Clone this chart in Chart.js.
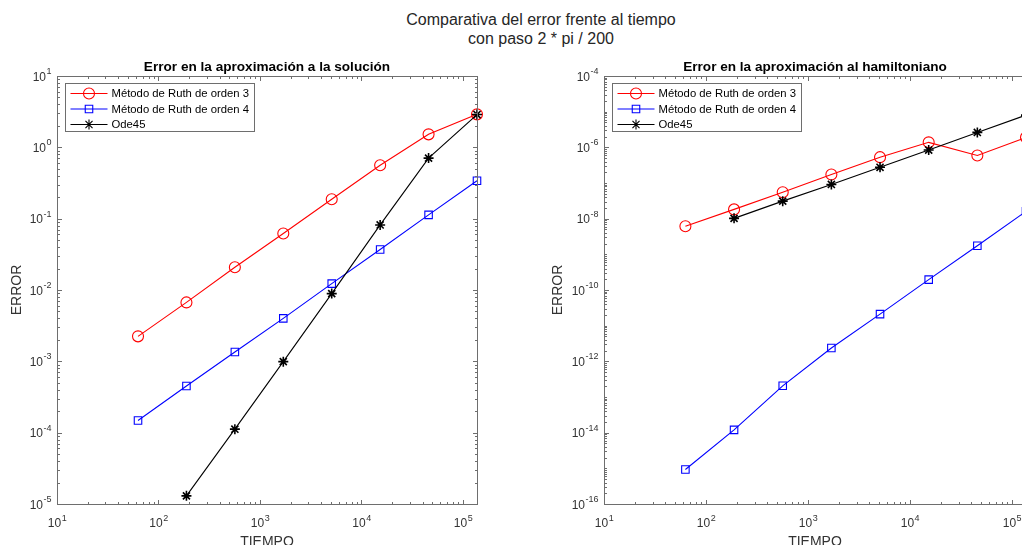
<!DOCTYPE html>
<html>
<head>
<meta charset="utf-8">
<script src="https://cdn.jsdelivr.net/npm/chart.js@4"></script>
<style>
html, body { margin: 0; padding: 0; background: #fff; overflow: hidden; width: 1022px; height: 545px; }
body { position: relative; font-family: "Liberation Sans", Arial, sans-serif; }
#suptitle { position: absolute; left: 0; top: 10px; width: 1082px; text-align: center; font-size: 16px; line-height: 19px; color: #262626; }
canvas { position: absolute; top: 0; }
#solChart { left: 0; }
#hamChart { left: 541px; }
</style>
</head>
<body>
<div id="suptitle">Comparativa del error frente al tiempo<br>con paso 2 * pi / 200</div>
<canvas id="solChart" width="541" height="545"></canvas>
<canvas id="hamChart" width="545" height="545"></canvas>
<script>
// tiempos (20*pi*3^k)
const tiempo = [62.83, 188.5, 565.5, 1696.5, 5089.4, 15268, 45804, 137412];
const etiquetas = ["Método de Ruth de orden 3", "Método de Ruth de orden 4", "Ode45"];

// error en la solucion
const solRuth3 = [2.24e-3, 6.7e-3, 0.0208, 0.062, 0.187, 0.56, 1.52, 2.9];
const solRuth4 = [1.48e-4, 4.5e-4, 1.35e-3, 4.0e-3, 0.0123, 0.037, 0.113, 0.34];
const solOde45 = [null, 1.3e-5, 1.12e-4, 9.9e-4, 8.9e-3, 0.0817, 0.706, 2.88];

// error en el hamiltoniano
const hamRuth3 = [6.1e-9, 1.82e-8, 5.5e-8, 1.73e-7, 5.3e-7, 1.38e-6, 5.9e-7, 1.9e-6];
const hamRuth4 = [9.3e-16, 1.2e-14, 2.06e-13, 2.37e-12, 2.11e-11, 1.95e-10, 1.74e-9, 1.6e-8];
const hamOde45 = [null, 1.02e-8, 3.1e-8, 9.1e-8, 2.76e-7, 8.4e-7, 2.62e-6, 8e-6];

// exponentes de las marcas (10^n)
const xTickExp = [1, 2, 3, 4, 5];
const solTickExp = [1, 0, -1, -2, -3, -4, -5];
const hamTickExp = [-4, -6, -8, -10, -12, -14, -16];

const FONT = '"Liberation Sans", Arial, sans-serif';
const AXIS_COLOR = "#6e6e6e";
const LABEL_COLOR = "#333333";

function serie(values) {
  return values.map((y, i) => ({x: tiempo[i], y}));
}

function buildDatasets(r3, r4, ode) {
  const base = {borderWidth: 1.1, pointBorderWidth: 1.1, pointBackgroundColor: "rgba(0,0,0,0)", tension: 0, fill: false, clip: false};
  return [
    {label: etiquetas[0], data: serie(r3), borderColor: "#ff0000", pointBorderColor: "#ff0000", pointStyle: "circle", pointRadius: 5.5, order: 3},
    {label: etiquetas[1], data: serie(r4), borderColor: "#0000ff", pointBorderColor: "#0000ff", pointStyle: "rect", pointRadius: 5.3, order: 2},
    {label: etiquetas[2], data: serie(ode), borderColor: "#000000", pointBorderColor: "#000000", pointStyle: "star", pointRadius: 5, pointBorderWidth: 1.6, order: 1}
  ].map((d) => Object.assign({}, base, d, {pointHoverRadius: d.pointRadius}));
}

function line(ctx, x1, y1, x2, y2) {
  ctx.beginPath();
  ctx.moveTo(x1, y1);
  ctx.lineTo(x2, y2);
  ctx.stroke();
}

function logTicks(scale, majors) {
  const out = [];
  const d0 = Math.floor(Math.log10(scale.min));
  const d1 = Math.ceil(Math.log10(scale.max));
  for (let d = d0; d <= d1; d++) {
    for (let k = 1; k < 10; k++) {
      const v = k * Math.pow(10, d);
      if (v < scale.min * 0.999 || v > scale.max * 1.001) continue;
      out.push({v, major: k === 1 && majors.includes(d)});
    }
  }
  return out;
}

function powLabel(ctx, exp) {
  ctx.font = `12px ${FONT}`;
  const w1 = ctx.measureText("10").width;
  ctx.font = `9px ${FONT}`;
  const w2 = ctx.measureText(String(exp)).width;
  return {w1, w2, width: w1 + w2};
}

function drawPow(ctx, x, baseline, exp) {
  const m = powLabel(ctx, exp);
  ctx.textAlign = "left";
  ctx.textBaseline = "alphabetic";
  ctx.font = `12px ${FONT}`;
  ctx.fillText("10", x, baseline);
  ctx.font = `9px ${FONT}`;
  ctx.fillText(String(exp), x + m.w1 + 0.5, baseline - 6.5);
}

const matlabAxes = {
  id: "matlabAxes",
  afterDraw(chart, args, opts) {
    const ctx = chart.ctx;
    const a = chart.chartArea;
    const xs = chart.scales.x;
    const ys = chart.scales.y;
    const L = Math.round(a.left) + 0.5, R = Math.round(a.right) + 0.5;
    const T = Math.round(a.top) + 0.5, B = Math.round(a.bottom) + 0.5;
    ctx.save();

    // marcas hacia dentro en los cuatro lados
    ctx.strokeStyle = AXIS_COLOR;
    ctx.lineWidth = 1;
    logTicks(xs, opts.xExp).forEach((t) => {
      const x = Math.round(xs.getPixelForValue(t.v)) + 0.5;
      const len = t.major ? 4.5 : 2.5;
      line(ctx, x, B, x, B - len);
      line(ctx, x, T, x, T + len);
    });
    logTicks(ys, opts.yExp).forEach((t) => {
      const y = Math.round(ys.getPixelForValue(t.v)) + 0.5;
      const len = t.major ? 4.5 : 2.5;
      line(ctx, L, y, L + len, y);
      line(ctx, R, y, R - len, y);
    });
    ctx.strokeRect(L, T, R - L, B - T);

    // etiquetas de las marcas
    ctx.fillStyle = LABEL_COLOR;
    opts.xExp.forEach((e) => {
      const x = xs.getPixelForValue(Math.pow(10, e));
      const m = powLabel(ctx, e);
      drawPow(ctx, x - m.width / 2, a.bottom + 23, e);
    });
    opts.yExp.forEach((e) => {
      const y = ys.getPixelForValue(Math.pow(10, e));
      const m = powLabel(ctx, e);
      drawPow(ctx, a.left - 6 - m.width, y + 4.5, e);
    });

    // titulos de ejes
    ctx.fillStyle = LABEL_COLOR;
    ctx.font = `14px ${FONT}`;
    ctx.textAlign = "center";
    ctx.textBaseline = "alphabetic";
    ctx.fillText(opts.xLabel, (a.left + a.right) / 2, a.bottom + 42);
    ctx.save();
    ctx.translate(a.left - opts.yLabelGap, (a.top + a.bottom) / 2);
    ctx.rotate(-Math.PI / 2);
    ctx.textBaseline = "middle";
    ctx.fillText(opts.yLabel, 0, 0);
    ctx.restore();

    // titulo del subplot
    ctx.fillStyle = "#000";
    ctx.font = `bold 13.6px ${FONT}`;
    ctx.textAlign = "center";
    ctx.fillText(opts.title, (a.left + a.right) / 2, a.top - 5);

    // leyenda
    const bx = Math.round(a.left) + 8.5, by = Math.round(a.top) + 7.5;
    ctx.fillStyle = "#fff";
    ctx.fillRect(bx, by, 189, 48);
    ctx.strokeStyle = AXIS_COLOR;
    ctx.strokeRect(bx, by, 189, 48);
    chart.data.datasets.forEach((ds, i) => {
      const cy = by + 10 + i * 15.5;
      ctx.strokeStyle = ds.borderColor;
      ctx.lineWidth = 1.1;
      line(ctx, bx + 5, cy, bx + 42, cy);
      ctx.fillStyle = "rgba(0,0,0,0)";
      Chart.helpers.drawPoint(ctx, {pointStyle: ds.pointStyle, radius: ds.pointRadius, borderWidth: ds.pointBorderWidth, rotation: 0}, bx + 23.5, cy);
      ctx.fillStyle = "#000";
      ctx.font = `11.3px ${FONT}`;
      ctx.textAlign = "left";
      ctx.textBaseline = "middle";
      ctx.fillText(ds.label, bx + 46, cy + 0.5);
    });
    ctx.restore();
  }
};

function buildChart(canvasId, datasets, yMin, yMax, padding, axesOpts) {
  return new Chart(document.getElementById(canvasId), {
    type: "line",
    data: {datasets},
    options: {
      responsive: false,
      animation: false,
      devicePixelRatio: 1,
      layout: {padding},
      scales: {
        x: {type: "logarithmic", min: 10, max: 137412, display: false},
        y: {type: "logarithmic", min: yMin, max: yMax, display: false}
      },
      plugins: {
        legend: {display: false},
        tooltip: {enabled: false},
        matlabAxes: axesOpts
      }
    },
    plugins: [matlabAxes]
  });
}

buildChart("solChart", buildDatasets(solRuth3, solRuth4, solOde45), 1e-5, 10,
  {left: 57, top: 76, right: 64, bottom: 41},
  {title: "Error en la aproximación a la solución", xLabel: "TIEMPO", yLabel: "ERROR", yLabelGap: 40, xExp: xTickExp, yExp: solTickExp});

buildChart("hamChart", buildDatasets(hamRuth3, hamRuth4, hamOde45), 1e-16, 1e-4,
  {left: 63, top: 76, right: 60, bottom: 41},
  {title: "Error en la aproximación al hamiltoniano", xLabel: "TIEMPO", yLabel: "ERROR", yLabelGap: 46, xExp: xTickExp, yExp: hamTickExp});
</script>
</body>
</html>
